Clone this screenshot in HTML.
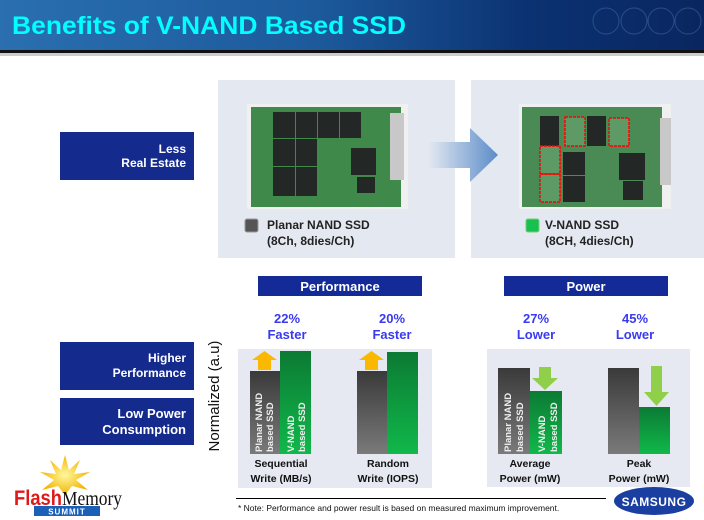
<!DOCTYPE html>
<html><head><meta charset="utf-8"><style>
html,body{margin:0;padding:0;width:704px;height:520px;overflow:hidden;background:#fff;}
svg{display:block;font-family:"Liberation Sans",sans-serif;}
</style></head><body>
<svg width="704" height="520" viewBox="0 0 704 520" xmlns="http://www.w3.org/2000/svg">
<defs>
<linearGradient id="tb" x1="0" x2="1" y1="0" y2="0">
<stop offset="0" stop-color="#2a6fb0"/><stop offset="0.45" stop-color="#1c5a9c"/><stop offset="0.75" stop-color="#0b3272"/><stop offset="1" stop-color="#0a2660"/></linearGradient>
<linearGradient id="gr" x1="0" x2="0" y1="0" y2="1"><stop offset="0" stop-color="#3a3a3a"/><stop offset="1" stop-color="#7a7a7a"/></linearGradient>
<linearGradient id="gn" x1="0" x2="0" y1="0" y2="1"><stop offset="0" stop-color="#0c7a34"/><stop offset="1" stop-color="#10b84a"/></linearGradient>
<linearGradient id="ar" x1="0" x2="1"><stop offset="0" stop-color="#e4e9f2"/><stop offset="1" stop-color="#5b8cc8"/></linearGradient>
<radialGradient id="st"><stop offset="0" stop-color="#fff8a0"/><stop offset="1" stop-color="#f3b400"/></radialGradient>
</defs>
<rect x="0" y="0" width="704" height="50" fill="url(#tb)"/>
<rect x="0" y="50" width="704" height="3" fill="#111"/>
<rect x="0" y="53" width="704" height="3" fill="#ccc"/>
<text x="12" y="34" font-size="25" font-weight="bold" fill="#00ffff" textLength="394" lengthAdjust="spacingAndGlyphs">Benefits of V-NAND Based SSD</text>
<g fill="none" stroke="#3f66a0" stroke-width="1" opacity="0.6"><circle cx="606" cy="21" r="13"/><circle cx="634" cy="21" r="13"/><circle cx="661" cy="21" r="13"/><circle cx="688" cy="21" r="13"/></g>

<!-- left boxes -->
<rect x="60" y="132" width="134" height="48" fill="#142a8c"/>
<text x="186" y="153" font-size="12" font-weight="bold" fill="#fff" text-anchor="end">Less</text>
<text x="186" y="167" font-size="12" font-weight="bold" fill="#fff" text-anchor="end">Real Estate</text>
<rect x="60" y="342" width="134" height="48" fill="#142a8c"/>
<text x="186" y="362" font-size="12" font-weight="bold" fill="#fff" text-anchor="end">Higher</text>
<text x="186" y="377" font-size="12" font-weight="bold" fill="#fff" text-anchor="end">Performance</text>
<rect x="60" y="398" width="134" height="47" fill="#142a8c"/>
<text x="186" y="418" font-size="13" font-weight="bold" fill="#fff" text-anchor="end">Low Power</text>
<text x="186" y="434" font-size="13" font-weight="bold" fill="#fff" text-anchor="end">Consumption</text>

<!-- photo panels -->
<rect x="218" y="80" width="237" height="178" fill="#e4e8f1"/>
<rect x="471" y="80" width="233" height="178" fill="#e4e8f1"/>
<rect x="247" y="104" width="161" height="105" fill="#f0f0f0"/>
<rect x="251" y="107" width="150" height="100" fill="#3f8a4a"/>
<g fill="#232826">
<rect x="273" y="112" width="22" height="26"/><rect x="296" y="112" width="21" height="26"/><rect x="318" y="112" width="21" height="26"/><rect x="340" y="112" width="21" height="26"/>
<rect x="273" y="139" width="22" height="27"/><rect x="296" y="139" width="21" height="27"/>
<rect x="273" y="167" width="22" height="29"/><rect x="296" y="167" width="21" height="29"/>
<rect x="351" y="148" width="25" height="27"/><rect x="357" y="177" width="18" height="16"/></g>
<rect x="390" y="113" width="14" height="67" fill="#c8c8c8"/>
<rect x="519" y="104" width="152" height="105" fill="#f0f0f0"/>
<rect x="522" y="107" width="140" height="100" fill="#4a8a55"/>
<g fill="#232826"><rect x="540" y="116" width="19" height="30"/><rect x="587" y="116" width="19" height="30"/><rect x="563" y="152" width="22" height="23"/><rect x="563" y="176" width="22" height="26"/><rect x="619" y="153" width="26" height="27"/><rect x="623" y="181" width="20" height="19"/></g>
<g fill="#5e9a66"><rect x="565" y="117" width="20" height="29"/><rect x="609" y="118" width="20" height="28"/><rect x="540" y="146" width="20" height="28"/><rect x="540" y="174" width="20" height="28"/></g>
<g fill="none" stroke="#f00" stroke-width="1.5" stroke-dasharray="3,1"><rect x="565" y="117" width="20" height="29"/><rect x="609" y="118" width="20" height="28"/><rect x="540" y="146" width="20" height="28"/><rect x="540" y="174" width="20" height="28"/></g>
<rect x="660" y="118" width="11" height="67" fill="#c8c8c8"/>
<polygon points="428,142 470,142 470,128 498,155 470,182 470,168 428,168" fill="url(#ar)"/>
<rect x="245" y="219" width="13" height="13" rx="2" fill="#555" stroke="#999"/>
<text x="267" y="229" font-size="12" font-weight="bold" fill="#222">Planar NAND SSD</text>
<text x="267" y="245" font-size="12" font-weight="bold" fill="#222">(8Ch, 8dies/Ch)</text>
<rect x="526" y="219" width="13" height="13" rx="2" fill="#18c050" stroke="#7c7"/>
<text x="545" y="229" font-size="12" font-weight="bold" fill="#222">V-NAND SSD</text>
<text x="545" y="245" font-size="12" font-weight="bold" fill="#222">(8CH, 4dies/Ch)</text>

<!-- headers -->
<rect x="258" y="276" width="164" height="20" fill="#142a96"/>
<text x="340" y="291" font-size="13" font-weight="bold" fill="#fff" text-anchor="middle">Performance</text>
<rect x="504" y="276" width="164" height="20" fill="#142a96"/>
<text x="586" y="291" font-size="13" font-weight="bold" fill="#fff" text-anchor="middle">Power</text>
<g font-size="13" font-weight="bold" fill="#3a3af0" text-anchor="middle">
<text x="287" y="323">22%</text><text x="287" y="339">Faster</text>
<text x="392" y="323">20%</text><text x="392" y="339">Faster</text>
<text x="536" y="323">27%</text><text x="536" y="339">Lower</text>
<text x="635" y="323">45%</text><text x="635" y="339">Lower</text>
</g>
<text transform="translate(219,396) rotate(-90)" font-size="15" fill="#111" text-anchor="middle">Normalized  (a.u)</text>

<!-- charts -->
<rect x="238" y="349" width="194" height="139" fill="#e6e9f2"/>
<rect x="487" y="349" width="203" height="138" fill="#e6e9f2"/>
<rect x="250" y="371" width="30" height="83" fill="url(#gr)"/>
<rect x="280" y="351" width="31" height="103" fill="url(#gn)"/>
<polygon points="258,370 271,370 271,360 277,360 264.5,351 252,360 258,360" fill="#fbb800"/>
<rect x="357" y="371" width="30" height="83" fill="url(#gr)"/>
<rect x="387" y="352" width="31" height="102" fill="url(#gn)"/>
<polygon points="365,370 378,370 378,360 384,360 371.5,351 359,360 365,360" fill="#fbb800"/>
<rect x="498" y="368" width="32" height="86" fill="url(#gr)"/>
<rect x="530" y="391" width="32" height="63" fill="url(#gn)"/>
<polygon points="539,367 551,367 551,378 558,378 545,390 532,378 539,378" fill="#8fcf4a"/>
<rect x="608" y="368" width="31" height="86" fill="url(#gr)"/>
<rect x="639" y="407" width="31" height="47" fill="url(#gn)"/>
<polygon points="651,366 662,366 662,392 669,392 656.5,406 644,392 651,392" fill="#8fcf4a"/>
<g font-size="9.5" font-weight="bold" fill="#eee">
<text transform="translate(262,452) rotate(-90)">Planar NAND</text>
<text transform="translate(273,452) rotate(-90)">based SSD</text>
<text transform="translate(294,452) rotate(-90)">V-NAND</text>
<text transform="translate(305,452) rotate(-90)">based SSD</text>
<text transform="translate(511,452) rotate(-90)">Planar NAND</text>
<text transform="translate(523,452) rotate(-90)">based SSD</text>
<text transform="translate(545,452) rotate(-90)">V-NAND</text>
<text transform="translate(557,452) rotate(-90)">based SSD</text>
</g>
<g font-size="10.5" font-weight="bold" fill="#111" text-anchor="middle">
<text x="281" y="467">Sequential</text><text x="281" y="482">Write (MB/s)</text>
<text x="388" y="467">Random</text><text x="388" y="482">Write (IOPS)</text>
<text x="530" y="467">Average</text><text x="530" y="482">Power (mW)</text>
<text x="639" y="467">Peak</text><text x="639" y="482">Power (mW)</text>
</g>
<rect x="236" y="498" width="370" height="1" fill="#000"/>
<text x="238" y="511" font-size="8.5" fill="#111">* Note:  Performance and power result is based on measured maximum improvement.</text>
<ellipse cx="654" cy="501" rx="40" ry="14" fill="#1a3fa0"/>
<text x="654" y="506" font-size="12" font-weight="bold" fill="#fff" text-anchor="middle" letter-spacing="0.5">SAMSUNG</text>

<!-- FMS logo -->
<polygon points="65,455 69,470 80,460 74,474 90,472 76,480 88,490 72,486 65,495 58,486 42,490 54,480 40,472 56,474 50,460 61,470" fill="url(#st)"/>
<text x="14" y="505" font-size="21" font-weight="bold" fill="#e01818" textLength="48" lengthAdjust="spacingAndGlyphs">Flash</text>
<text x="62" y="505" font-size="20" fill="#111" font-family="Liberation Serif,serif" textLength="60" lengthAdjust="spacingAndGlyphs">Memory</text>
<rect x="34" y="506" width="66" height="10" fill="#1a5fb8"/>
<text x="67" y="514.5" font-size="8" font-weight="bold" fill="#fff" text-anchor="middle" letter-spacing="1">SUMMIT</text>
</svg>
</body></html>
